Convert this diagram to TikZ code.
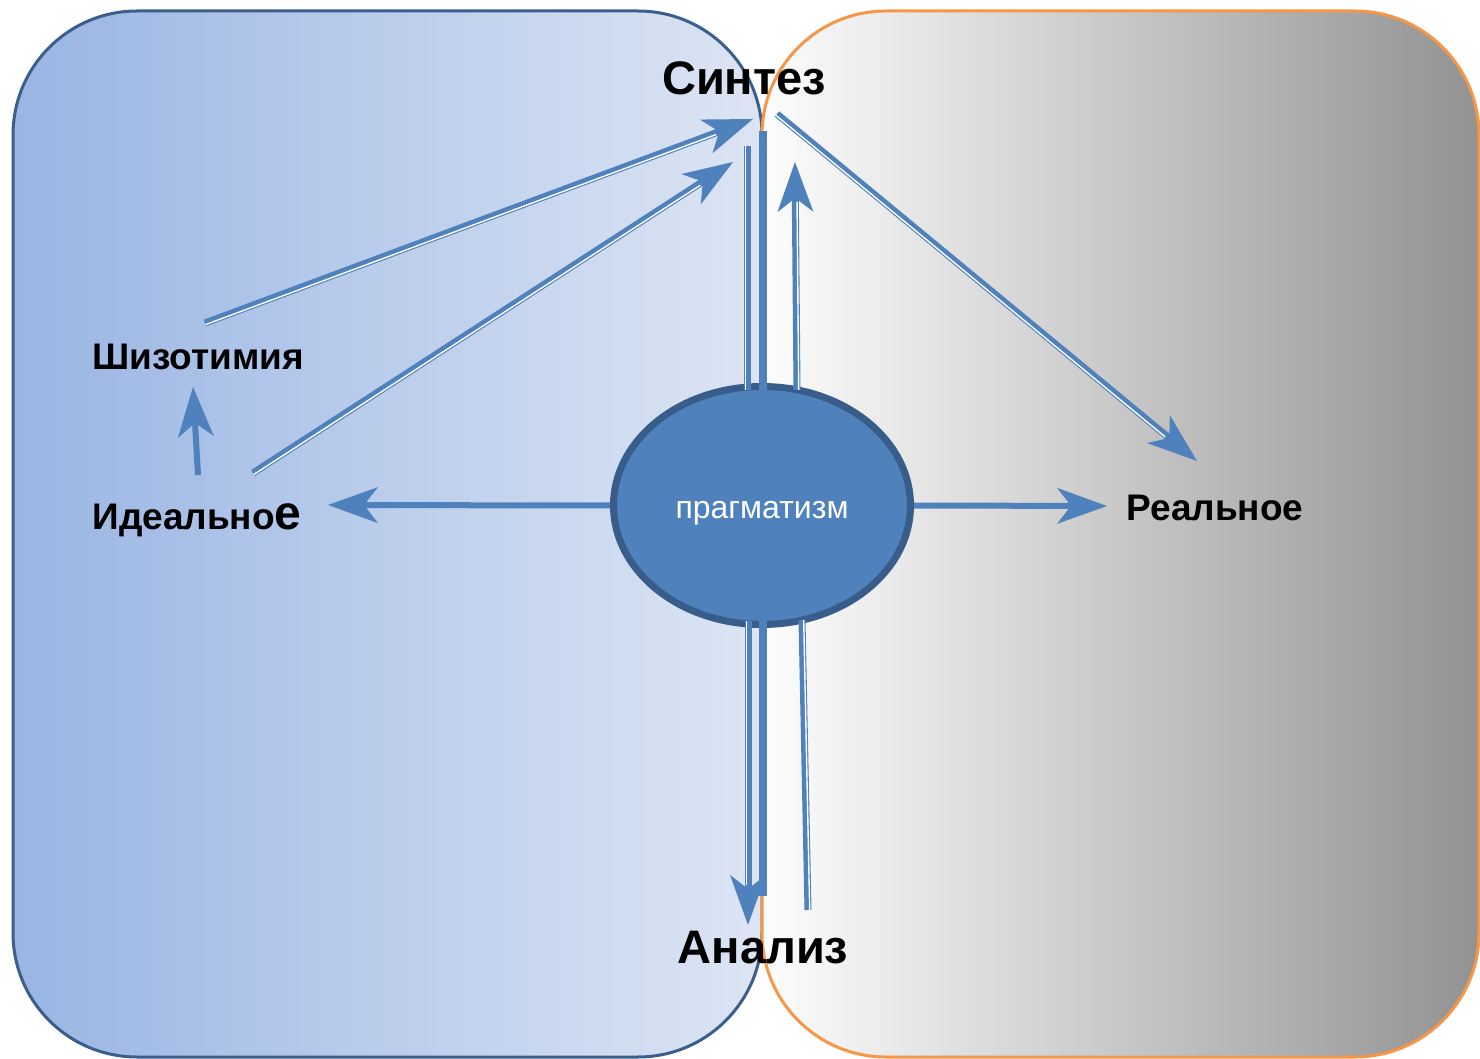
\documentclass[tikz,border=0pt]{standalone}
\usepackage{fontspec}
\setmainfont{Liberation Sans}
\usetikzlibrary{arrows.meta,shapes.geometric,calc}
\definecolor{arrowblue}{RGB}{79,129,189}
\definecolor{ellborder}{RGB}{56,93,138}
\definecolor{leftborder}{RGB}{58,95,140}
\definecolor{rightborder}{RGB}{247,150,70}
\definecolor{leftA}{RGB}{153,181,227}
\definecolor{leftB}{RGB}{221,229,244}
\definecolor{rightA}{RGB}{253,253,253}
\definecolor{rightB}{RGB}{146,146,146}
% thick-thin compound line: #1 extra options (tip), #2 start, #3 end,
% #4 side of the white stripe (90 or -90), #5 stripe shortening at the end
\newcommand\compoundline[5]{%
  \draw[arrowblue,line width=3.5pt,#1] (#2) -- (#3);
  \draw[white,line width=0.7pt,shorten >=#5]
    ($(#2)!0.85pt!#4:(#3)$) -- ($(#3)!0.85pt!-#4:(#2)$);
}
\begin{document}
\begin{tikzpicture}[x=0.5pt,y=-0.5pt,
  tip/.style={-{Stealth[length=25pt,width=18pt,inset=7pt,line width=0pt]}},
  thickarrow/.style={arrowblue,line width=3pt,tip},
  bar/.style={arrowblue,line width=4pt},
  lbl/.style={font=\bfseries\fontsize{18.5}{20}\selectfont,inner sep=0pt},
  big/.style={font=\bfseries\fontsize{23.5}{26}\selectfont,inner sep=0pt}]
\useasboundingbox (0,0) rectangle (1480,1059);

% the two halves
\path[draw=leftborder,line width=1.5pt,left color=leftA,right color=leftB,rounded corners=62pt]
  (13,11) rectangle (762,1057);
\path[draw=rightborder,line width=1.5pt,left color=rightA,right color=rightB,rounded corners=62pt]
  (762,11) rectangle (1479,1057);

% labels
\node[big] (syn) at (744,78) {Синтез};
\node[big] (ana) at (763,948) {Анализ};
\node[lbl,anchor=west] (shiz) at (92,357) {Шизотимия};
\node[lbl,anchor=base west] (ideal) at (92,530) {Идеально{\fontsize{24}{26}\selectfont е}};
\node[lbl] (real) at (1215,508) {Реальное};

% central ellipse
\node[ellipse,draw=ellborder,fill=arrowblue,line width=3.5pt,
  minimum width=148.5pt,minimum height=119pt,inner sep=0pt] (ell) at (762,505.5) {};
\node[text=white,font=\fontsize{16}{18}\selectfont,inner sep=0pt] (prag) at (762,513) {прагматизм};

% end points
\coordinate (shizT) at (205,323);
\coordinate (synA) at (753,119);
\coordinate (idealT) at (253,473);
\coordinate (synB) at (733,162);
\coordinate (idealU) at (198,475);
\coordinate (shizB) at (193,387);
\coordinate (idealR) at (328,505);
\coordinate (realL) at (1107,506);
\coordinate (synR) at (777,114);
\coordinate (realT) at (1197,461);
\coordinate (ellN1) at (797,390);
\coordinate (synC) at (795,162);
\coordinate (ellN2) at (747,390);
\coordinate (synD) at (747,146);
\coordinate (ellN3) at (763,390);
\coordinate (synE) at (763,131);
\coordinate (ellS1) at (748,621);
\coordinate (anaA) at (748,925);
\coordinate (ellS2) at (763,621);
\coordinate (anaB) at (763,896);
\coordinate (ellS3) at (802,620);
\coordinate (anaC) at (808,910);

% connectors
\compoundline{tip}{shizT}{synA}{-90}{20pt}
\compoundline{tip}{idealT}{synB}{-90}{20pt}
\draw[thickarrow] (idealU) -- (shizB);
\draw[thickarrow] (ell.west) -- (idealR);
\draw[thickarrow] (ell.east) -- (realL);
\compoundline{tip}{synR}{realT}{-90}{20pt}
\compoundline{tip}{ellN1}{synC}{-90}{20pt}
\compoundline{}{ellN2}{synD}{90}{0pt}
\draw[bar] (ellN3) -- (synE);
\compoundline{tip}{ellS1}{anaA}{-90}{20pt}
\draw[bar] (ellS2) -- (anaB);
\compoundline{}{ellS3}{anaC}{90}{0pt}
\end{tikzpicture}
\end{document}
